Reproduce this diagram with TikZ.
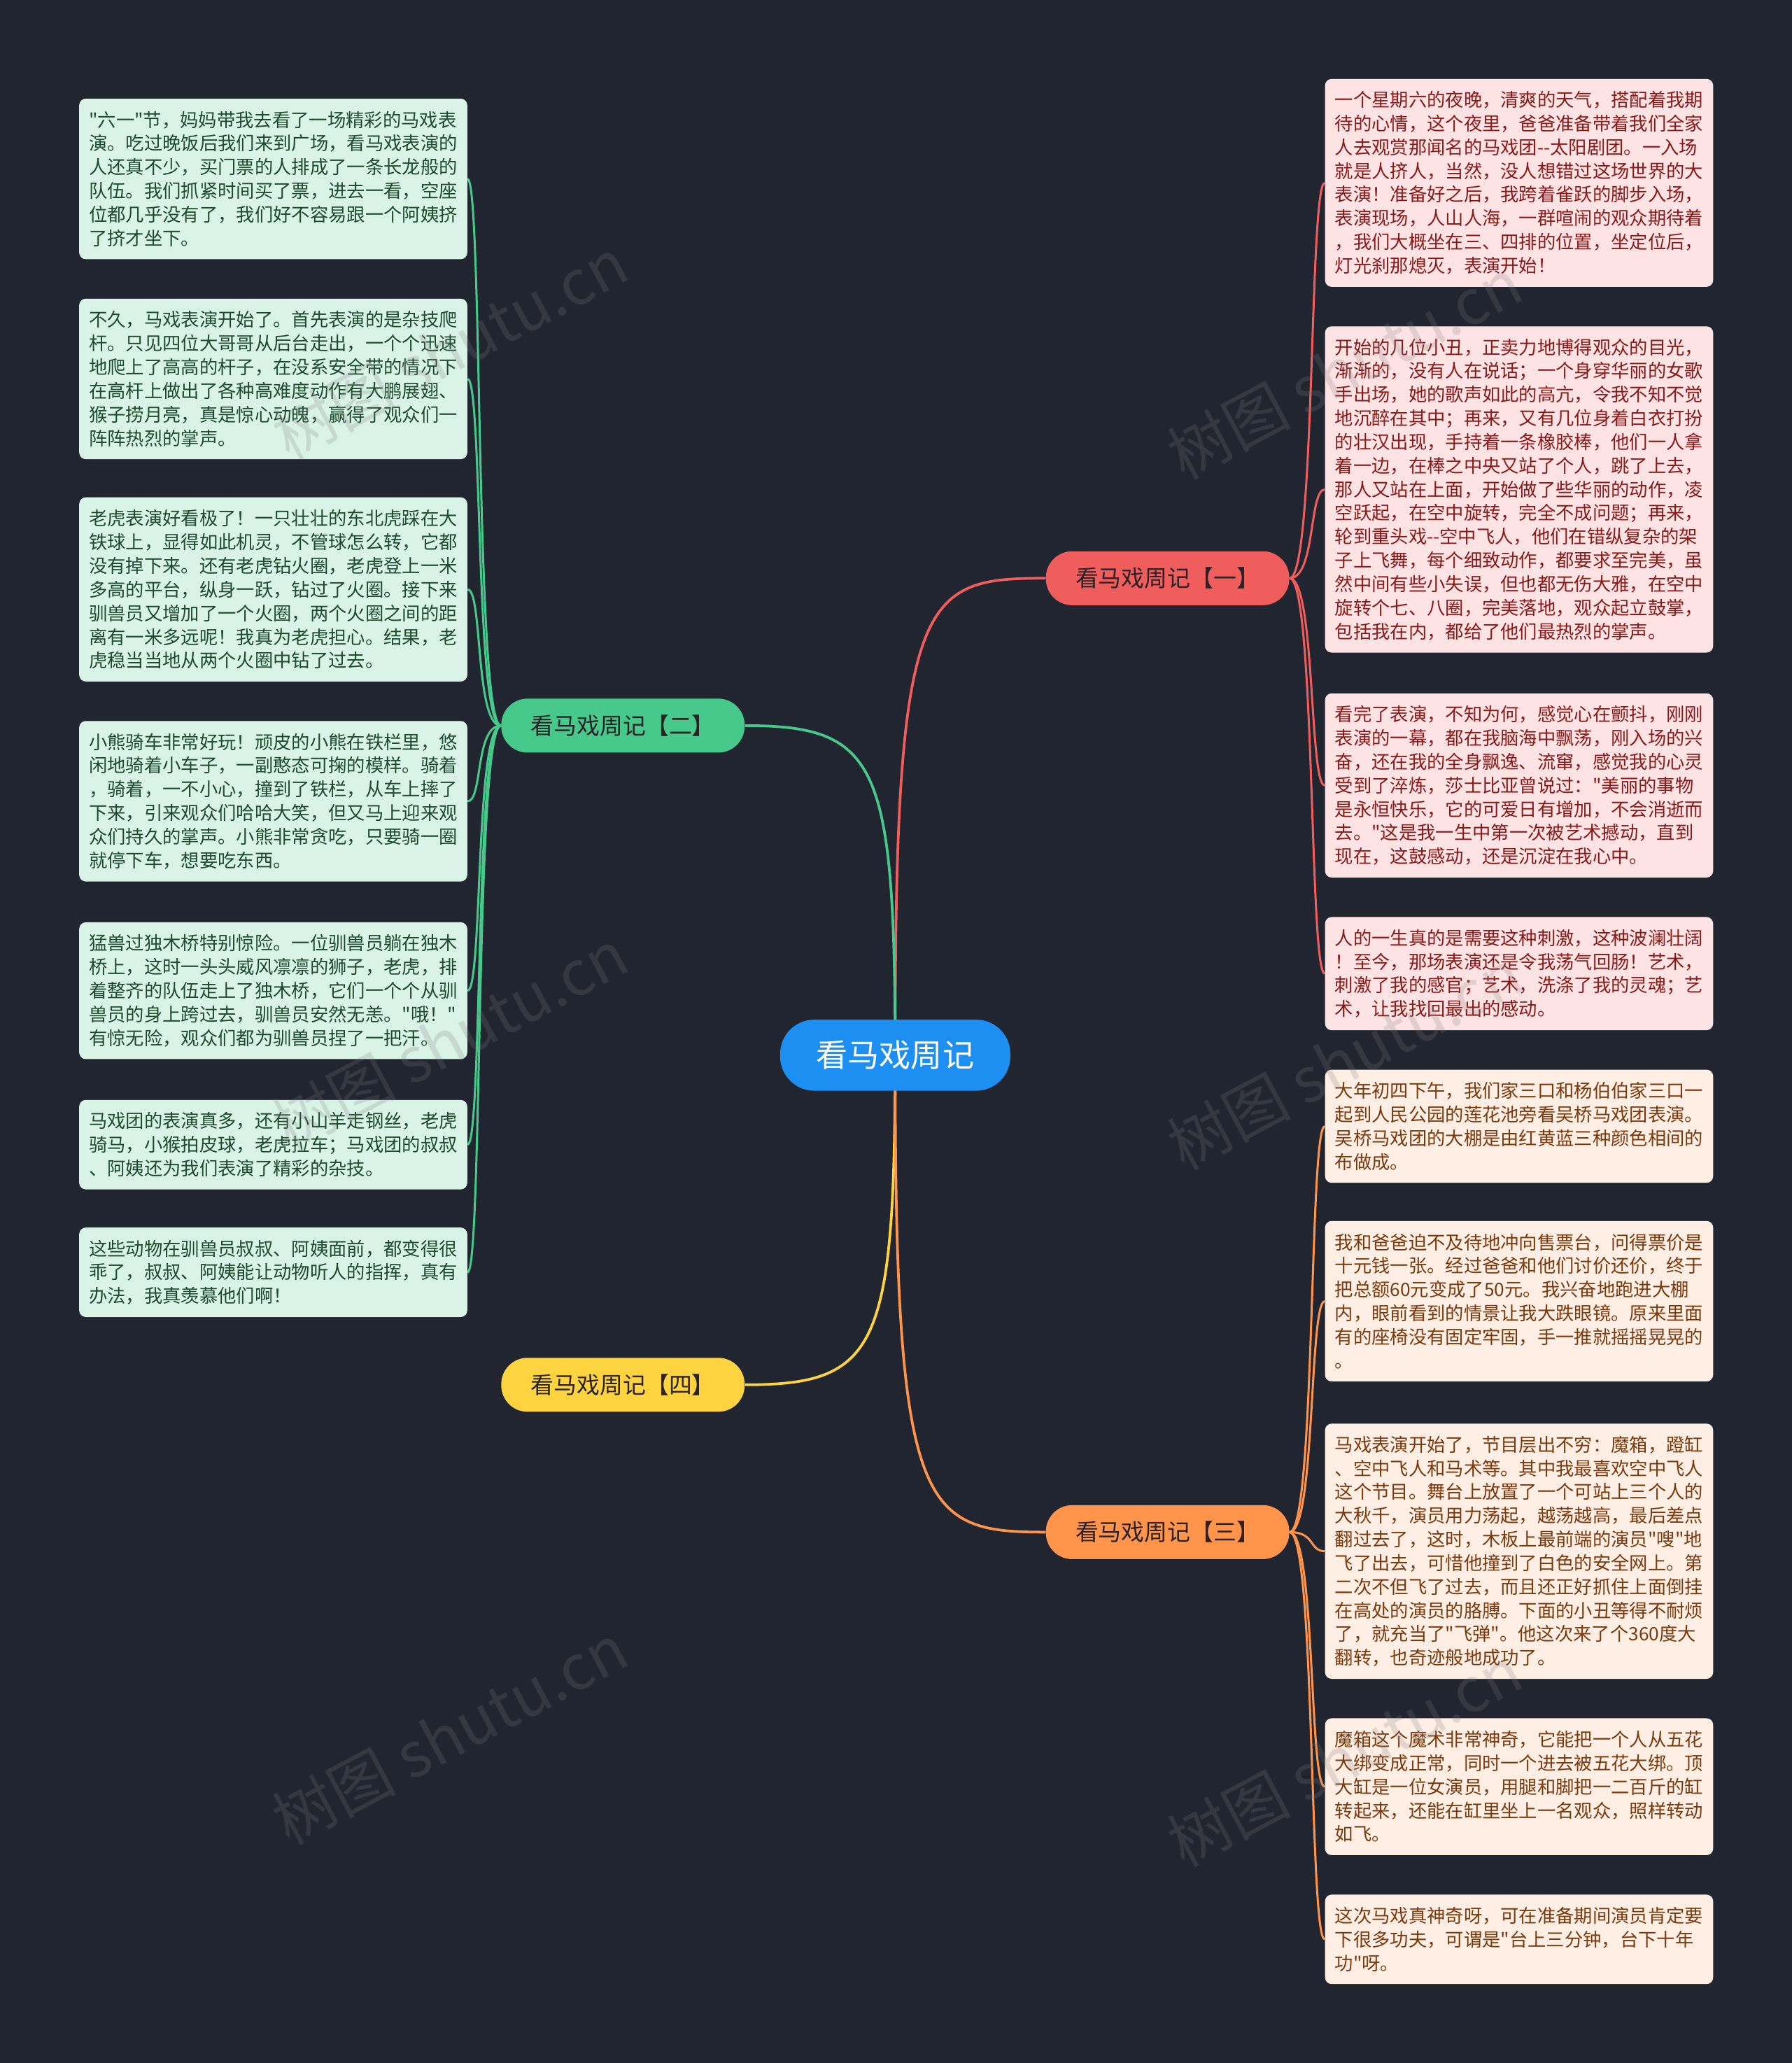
\documentclass[tikz,border=0pt]{standalone}
\usepackage{fontspec}
\setmainfont{Noto Sans CJK SC}[Ligatures=TeXOff]
\pgfdeclarelayer{bglayer}
\pgfdeclarelayer{linelayer}
\pgfsetlayers{bglayer,linelayer,main}
\definecolor{bgc}{HTML}{21252F}
\definecolor{cblue}{HTML}{1E8FF2}
\definecolor{cred}{HTML}{F05D5D}
\definecolor{cgreen}{HTML}{46C98B}
\definecolor{cyellow}{HTML}{FDD43F}
\definecolor{corange}{HTML}{FF944A}
\definecolor{lgreen}{HTML}{DAF3E7}
\definecolor{lred}{HTML}{FDE3E3}
\definecolor{lorange}{HTML}{FEEEE3}
\definecolor{tgreen}{HTML}{1E4A2E}
\definecolor{tred}{HTML}{8A1A1A}
\definecolor{torange}{HTML}{7A3A0E}
\definecolor{tbranch}{HTML}{2A2226}
\tikzset{
  leaf/.style={rectangle, rounded corners=5pt, text width=280pt, inner xsep=7.5pt, inner ysep=0pt, align=left, font=\fontsize{14}{18}\selectfont, anchor=west},
  gleaf/.style={leaf, fill=lgreen, text=tgreen},
  rleaf/.style={leaf, fill=lred, text=tred},
  oleaf/.style={leaf, fill=lorange, text=torange},
  branch/.style={rectangle, rounded corners=20pt, minimum width=185pt, minimum height=41pt, inner sep=0pt, font=\fontsize{17.5}{20}\selectfont, text=tbranch},
  rootnode/.style={rectangle, rounded corners=26pt, fill=cblue, minimum width=175pt, minimum height=54pt, inner sep=0pt, font=\fontsize{24}{26}\selectfont, text=white},
  mainline/.style={line width=2pt},
  leafline/.style={line width=1.6pt},
  wmark/.style={text=gray, opacity=0.22, rotate=28, font=\fontsize{47}{47}\selectfont}
}
\begin{document}
\begin{tikzpicture}[x=1pt,y=-1pt]
\begin{pgfonlayer}{bglayer}
\fill[bgc] (0,0) rectangle (1362,1568);
\end{pgfonlayer}
\useasboundingbox (0,0) rectangle (1362,1568);

\node[rootnode] (root) at (680.5,802) {看马戏周记};
\node[branch, fill=cred] (b1) at (887.5,439.5) {看马戏周记【一】};
\node[branch, fill=cgreen] (b2) at (473.5,551.5) {看马戏周记【二】};
\node[branch, fill=corange] (b3) at (887.5,1164.5) {看马戏周记【三】};
\node[branch, fill=cyellow] (b4) at (473.5,1052.5) {看马戏周记【四】};

% left leaves (green)
\node[gleaf, minimum height=122pt] (l1) at (60,136) {"六一"节，妈妈带我去看了一场精彩的马戏表\\演。吃过晚饭后我们来到广场，看马戏表演的\\人还真不少，买门票的人排成了一条长龙般的\\队伍。我们抓紧时间买了票，进去一看，空座\\位都几乎没有了，我们好不容易跟一个阿姨挤\\了挤才坐下。};
\node[gleaf, minimum height=122pt] (l2) at (60,288) {不久，马戏表演开始了。首先表演的是杂技爬\\杆。只见四位大哥哥从后台走出，一个个迅速\\地爬上了高高的杆子，在没系安全带的情况下\\在高杆上做出了各种高难度动作有大鹏展翅、\\猴子捞月亮，真是惊心动魄，赢得了观众们一\\阵阵热烈的掌声。};
\node[gleaf, minimum height=140pt] (l3) at (60,448) {老虎表演好看极了！一只壮壮的东北虎踩在大\\铁球上，显得如此机灵，不管球怎么转，它都\\没有掉下来。还有老虎钻火圈，老虎登上一米\\多高的平台，纵身一跃，钻过了火圈。接下来\\驯兽员又增加了一个火圈，两个火圈之间的距\\离有一米多远呢！我真为老虎担心。结果，老\\虎稳当当地从两个火圈中钻了过去。};
\node[gleaf, minimum height=122pt] (l4) at (60,609) {小熊骑车非常好玩！顽皮的小熊在铁栏里，悠\\闲地骑着小车子，一副憨态可掬的模样。骑着\\，骑着，一不小心，撞到了铁栏，从车上摔了\\下来，引来观众们哈哈大笑，但又马上迎来观\\众们持久的掌声。小熊非常贪吃，只要骑一圈\\就停下车，想要吃东西。};
\node[gleaf, minimum height=104pt] (l5) at (60,753) {猛兽过独木桥特别惊险。一位驯兽员躺在独木\\桥上，这时一头头威风凛凛的狮子，老虎，排\\着整齐的队伍走上了独木桥，它们一个个从驯\\兽员的身上跨过去，驯兽员安然无恙。"哦！"\\有惊无险，观众们都为驯兽员捏了一把汗。};
\node[gleaf, minimum height=68pt] (l6) at (60,870) {马戏团的表演真多，还有小山羊走钢丝，老虎\\骑马，小猴拍皮球，老虎拉车；马戏团的叔叔\\、阿姨还为我们表演了精彩的杂技。};
\node[gleaf, minimum height=68pt] (l7) at (60,967) {这些动物在驯兽员叔叔、阿姨面前，都变得很\\乖了，叔叔、阿姨能让动物听人的指挥，真有\\办法，我真羡慕他们啊！};

% right leaves (red)
\node[rleaf, minimum height=158pt] (r1) at (1007,139) {一个星期六的夜晚，清爽的天气，搭配着我期\\待的心情，这个夜里，爸爸准备带着我们全家\\人去观赏那闻名的马戏团--太阳剧团。一入场\\就是人挤人，当然，没人想错过这场世界的大\\表演！准备好之后，我跨着雀跃的脚步入场，\\表演现场，人山人海，一群喧闹的观众期待着\\，我们大概坐在三、四排的位置，坐定位后，\\灯光刹那熄灭，表演开始！};
\node[rleaf, minimum height=248pt] (r2) at (1007,372) {开始的几位小丑，正卖力地博得观众的目光，\\渐渐的，没有人在说话；一个身穿华丽的女歌\\手出场，她的歌声如此的高亢，令我不知不觉\\地沉醉在其中；再来，又有几位身着白衣打扮\\的壮汉出现，手持着一条橡胶棒，他们一人拿\\着一边，在棒之中央又站了个人，跳了上去，\\那人又站在上面，开始做了些华丽的动作，凌\\空跃起，在空中旋转，完全不成问题；再来，\\轮到重头戏--空中飞人，他们在错纵复杂的架\\子上飞舞，每个细致动作，都要求至完美，虽\\然中间有些小失误，但也都无伤大雅，在空中\\旋转个七、八圈，完美落地，观众起立鼓掌，\\包括我在内，都给了他们最热烈的掌声。};
\node[rleaf, minimum height=140pt] (r3) at (1007,597) {看完了表演，不知为何，感觉心在颤抖，刚刚\\表演的一幕，都在我脑海中飘荡，刚入场的兴\\奋，还在我的全身飘逸、流窜，感觉我的心灵\\受到了淬炼，莎士比亚曾说过："美丽的事物\\是永恒快乐，它的可爱日有增加，不会消逝而\\去。"这是我一生中第一次被艺术撼动，直到\\现在，这鼓感动，还是沉淀在我心中。};
\node[rleaf, minimum height=86pt] (r4) at (1007,740) {人的一生真的是需要这种刺激，这种波澜壮阔\\！至今，那场表演还是令我荡气回肠！艺术，\\刺激了我的感官；艺术，洗涤了我的灵魂；艺\\术，让我找回最出的感动。};

% right leaves (orange)
\node[oleaf, minimum height=86pt] (r5) at (1007,856) {大年初四下午，我们家三口和杨伯伯家三口一\\起到人民公园的莲花池旁看吴桥马戏团表演。\\吴桥马戏团的大棚是由红黄蓝三种颜色相间的\\布做成。};
\node[oleaf, minimum height=122pt] (r6) at (1007,989) {我和爸爸迫不及待地冲向售票台，问得票价是\\十元钱一张。经过爸爸和他们讨价还价，终于\\把总额60元变成了50元。我兴奋地跑进大棚\\内，眼前看到的情景让我大跌眼镜。原来里面\\有的座椅没有固定牢固，手一推就摇摇晃晃的\\。};
\node[oleaf, minimum height=194pt] (r7) at (1007,1179) {马戏表演开始了，节目层出不穷：魔箱，蹬缸\\、空中飞人和马术等。其中我最喜欢空中飞人\\这个节目。舞台上放置了一个可站上三个人的\\大秋千，演员用力荡起，越荡越高，最后差点\\翻过去了，这时，木板上最前端的演员"嗖"地\\飞了出去，可惜他撞到了白色的安全网上。第\\二次不但飞了过去，而且还正好抓住上面倒挂\\在高处的演员的胳膊。下面的小丑等得不耐烦\\了，就充当了"飞弹"。他这次来了个360度大\\翻转，也奇迹般地成功了。};
\node[oleaf, minimum height=104pt] (r8) at (1007,1358) {魔箱这个魔术非常神奇，它能把一个人从五花\\大绑变成正常，同时一个进去被五花大绑。顶\\大缸是一位女演员，用腿和脚把一二百斤的缸\\转起来，还能在缸里坐上一名观众，照样转动\\如飞。};
\node[oleaf, minimum height=68pt] (r9) at (1007,1474) {这次马戏真神奇呀，可在准备期间演员肯定要\\下很多功夫，可谓是"台上三分钟，台下十年\\功"呀。};

\begin{pgfonlayer}{linelayer}
% root to branches
\draw[mainline, cred] (root.center) .. controls (680,450) and (700,439.5) .. (b1.west);
\draw[mainline, cgreen] (root.center) .. controls (680,580) and (668,551.5) .. (b2.east);
\draw[mainline, cyellow] (root.center) .. controls (680,1025) and (668,1052.5) .. (b4.east);
\draw[mainline, corange] (root.center) .. controls (680,1150) and (700,1164.5) .. (b3.west);
% branch 1 to leaves
\foreach \n/\y in {r1/139, r2/372, r3/597, r4/740}
  \draw[leafline, cred] (b1.east) .. controls (1000,439.5) and (995,\y) .. (\n.west);
% branch 3 to leaves
\foreach \n/\y in {r5/856, r6/989, r7/1179, r8/1358, r9/1474}
  \draw[leafline, corange] (b3.east) .. controls (1000,1164.5) and (995,\y) .. (\n.west);
% branch 2 to leaves
\foreach \n/\y in {l1/136, l2/288, l3/448, l4/609, l5/753, l6/870, l7/967}
  \draw[leafline, cgreen] (b2.west) .. controls (361,551.5) and (367,\y) .. (\n.east);
\end{pgfonlayer}

% watermarks
\node[wmark] (w1) at (342,265) {树图 shutu.cn};
\node[wmark] (w2) at (342,790) {树图 shutu.cn};
\node[wmark] (w3) at (342,1318) {树图 shutu.cn};
\node[wmark] (w4) at (1022,280) {树图 shutu.cn};
\node[wmark] (w5) at (1022,805) {树图 shutu.cn};
\node[wmark] (w6) at (1022,1335) {树图 shutu.cn};
\end{tikzpicture}
\end{document}
